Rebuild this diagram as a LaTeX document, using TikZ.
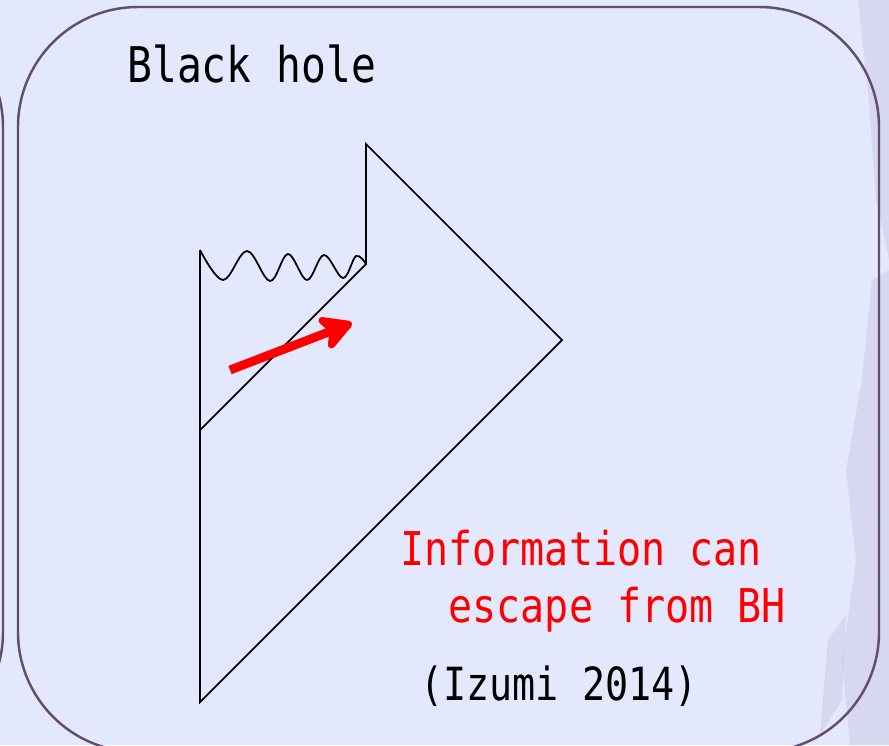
\documentclass[tikz,border=0pt]{standalone}
\usepackage{fontspec}
\usetikzlibrary{arrows.meta}
\newfontfamily\gothic[FakeStretch=0.84]{DejaVu Sans Mono}
\newfontfamily\gothicw[FakeStretch=0.86]{DejaVu Sans Mono}
\definecolor{slidebg}{RGB}{228,232,252}
\definecolor{boxline}{RGB}{100,78,112}
\definecolor{leafcol}{RGB}{186,180,214}
\tikzset{
  penrose/.style={black, line width=1pt},
  framebox/.style={boxline, line width=1.4pt, rounded corners=2.4cm},
  leaf/.style={leafcol, opacity=0.3},
}

\begin{document}
\begin{tikzpicture}[x=0.02cm, y=-0.02cm, every node/.style={inner sep=0pt}]
    \clip (0,0) rectangle (889,745);
    % Slide background
    \fill[slidebg] (0,0) rectangle (889,745);
    % Faint texture at the right edge
    \fill[leaf] (858,0) -- (889,0) -- (889,260) -- (876,200) -- (868,90) -- cycle;
    \fill[leaf] (872,280) -- (889,270) -- (889,745) -- (850,745) -- (842,660) -- (856,560) -- (846,470) -- (862,380) -- cycle;
    \fill[leaf] (828,640) -- (846,615) -- (842,700) -- (820,735) -- cycle;
    % Neighbour box (cut off) and this box
    \draw[framebox] (-900,7) rectangle (3,752);
    \draw[framebox] (18,7) rectangle (879,752);
    % Title
    \node[anchor=base west, font=\gothic\fontsize{28}{34}\selectfont] (title) at (127,82) {Black hole};
    % Penrose diagram corners
    \coordinate (sing) at (200,250);
    \coordinate (kink) at (366,264);
    \coordinate (top) at (366,144);
    \coordinate (spinf) at (562,340);
    \coordinate (bot) at (200,702);
    \coordinate (hor) at (200,430);
    \draw[penrose] (sing) -- (bot) -- (spinf) -- (top) -- (kink) -- (hor);
    % Singularity
    \draw[penrose] plot[smooth, tension=0.6] coordinates {(200,250) (223,280) (247,251) (270,281) (288,254) (307,280) (324,255) (343,278) (356,256) (366,264)};
    % Signal crossing the horizon
    \coordinate (atail) at (230,370);
    \coordinate (ahead) at (352,323);
    \draw[red, line width=5pt, -{Stealth[length=22pt, width=24pt, inset=6pt, round]}] (atail) -- (ahead);
    % Comments
    \node[anchor=base west, align=left, red, font=\gothicw\fontsize{26.5}{32.3}\selectfont] (info) at (400,622) {Information can\\\phantom{xx}escape from BH};
    \node[anchor=base west, font=\gothic\fontsize{26}{32}\selectfont] (ref) at (420,700) {(Izumi 2014)};
\end{tikzpicture}
\end{document}
